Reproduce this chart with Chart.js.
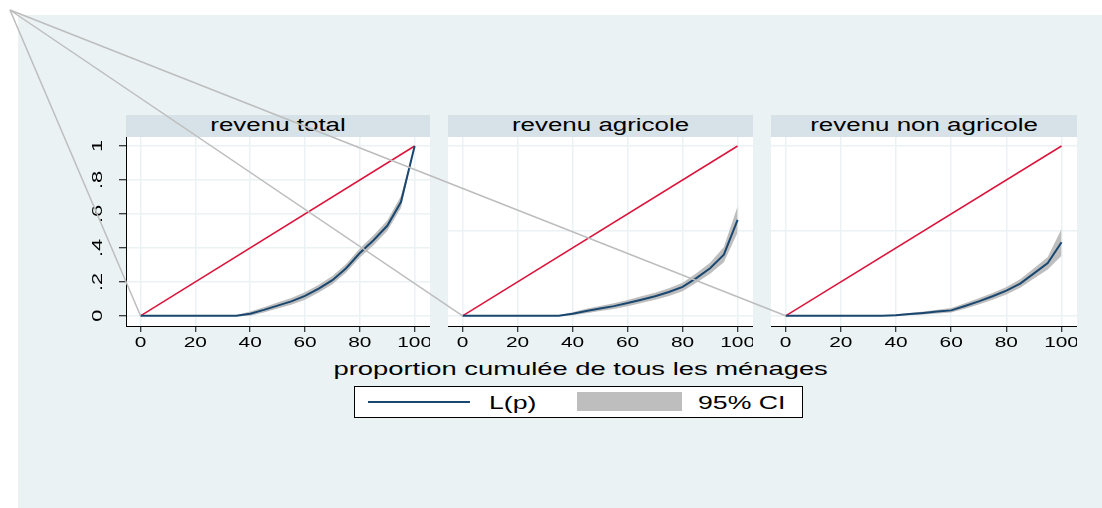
<!DOCTYPE html>
<html>
<head>
<meta charset="utf-8">
<script src="https://cdn.jsdelivr.net/npm/chart.js@4.4.0/dist/chart.umd.min.js"></script>
<style>
  html, body { margin: 0; padding: 0; background: #fff; }
  #page { position: relative; width: 1102px; height: 508px; overflow: hidden;
          font-family: "Liberation Sans", Arial, sans-serif; color: #000; }
  #bg { position: absolute; left: 18px; top: 15px; width: 1084px; height: 493px; background: #EAF2F3; }
  .strip { position: absolute; top: 115px; height: 22px; background: #D7E2E8;
           text-align: center; font-size: 18px; line-height: 20px; white-space: nowrap; }
  .sx { display: inline-block; transform: scaleX(1.44); transform-origin: center; }
  .sxl { display: inline-block; transform: scaleX(1.44); transform-origin: left center; }
  canvas.panel { position: absolute; }
  #xtitle { position: absolute; left: 0; width: 1162px; top: 358px; text-align: center;
            font-size: 19px; line-height: 22px; white-space: nowrap; }
  #legend { position: absolute; left: 354px; top: 386px; width: 447px; height: 30px;
            background: #fff; border: 1px solid #000; }
  #legend .txt { position: absolute; top: 6px; font-size: 18.5px; line-height: 20px; white-space: nowrap; }
  #overlay { position: absolute; left: 0; top: 0; pointer-events: none; }
</style>
</head>
<body>
<div id="page">
  <div id="bg"></div>

  <div class="strip" id="s0" style="left:126px;width:304px;"><span class="sx" id="t0"></span></div>
  <div class="strip" id="s1" style="left:448px;width:305px;"><span class="sx" id="t1"></span></div>
  <div class="strip" id="s2" style="left:771px;width:306px;"><span class="sx" id="t2"></span></div>

  <canvas class="panel" id="c0" width="370" height="220" style="left:60px;top:137px;"></canvas>
  <canvas class="panel" id="c1" width="305" height="220" style="left:448px;top:137px;"></canvas>
  <canvas class="panel" id="c2" width="306" height="220" style="left:771px;top:137px;"></canvas>

  <div id="xtitle"><span class="sx">proportion cumulée de tous les ménages</span></div>

  <div id="legend">
    <div style="position:absolute;left:13px;top:14px;width:102px;height:2px;background:#1A476F;"></div>
    <div class="txt" style="left:134px;"><span class="sxl">L(p)</span></div>
    <div style="position:absolute;left:222px;top:5px;width:105px;height:19px;background:#BEBEBE;"></div>
    <div class="txt" style="left:343px;"><span class="sxl">95% CI</span></div>
  </div>

  <canvas id="overlay" width="1102" height="508"></canvas>
</div>

<script>
// Cumulative population share (%) at which each Lorenz ordinate is estimated
const share = [0, 5, 10, 15, 20, 25, 30, 35, 40, 45, 50, 55, 60, 65, 70, 75, 80, 85, 90, 95, 100];

// revenu total: L(p) and 95% confidence bounds
const lpTotal = [0, 0, 0, 0, 0, 0, 0, 0, 0.012, 0.035, 0.06, 0.085, 0.117, 0.16, 0.21, 0.28, 0.37, 0.445, 0.53, 0.67, 1];
const loTotal = [0, 0, 0, 0, 0, 0, 0, 0, 0.001, 0.02, 0.043, 0.065, 0.095, 0.137, 0.186, 0.255, 0.343, 0.416, 0.499, 0.635, 1];
const hiTotal = [0, 0, 0, 0, 0, 0, 0, 0.005, 0.025, 0.051, 0.078, 0.105, 0.139, 0.183, 0.234, 0.305, 0.397, 0.474, 0.561, 0.705, 1];

// revenu agricole
const lpAgri = [0, 0, 0, 0, 0, 0, 0, 0, 0.012, 0.028, 0.043, 0.057, 0.075, 0.095, 0.115, 0.14, 0.17, 0.222, 0.28, 0.36, 0.565];
const loAgri = [0, 0, 0, 0, 0, 0, 0, 0, 0.003, 0.015, 0.028, 0.04, 0.057, 0.075, 0.094, 0.117, 0.145, 0.194, 0.248, 0.315, 0.49];
const hiAgri = [0, 0, 0, 0, 0, 0, 0, 0.003, 0.021, 0.041, 0.058, 0.074, 0.093, 0.115, 0.136, 0.163, 0.195, 0.25, 0.312, 0.405, 0.645];

// revenu non agricole
const lpNon = [0, 0, 0, 0, 0, 0, 0, 0, 0.004, 0.01, 0.017, 0.025, 0.032, 0.058, 0.085, 0.115, 0.148, 0.19, 0.25, 0.31, 0.433];
const loNon = [0, 0, 0, 0, 0, 0, 0, 0, 0, 0.003, 0.008, 0.014, 0.019, 0.042, 0.067, 0.095, 0.126, 0.165, 0.22, 0.273, 0.354];
const hiNon = [0, 0, 0, 0, 0, 0, 0, 0.002, 0.009, 0.017, 0.026, 0.036, 0.046, 0.074, 0.103, 0.135, 0.17, 0.215, 0.28, 0.347, 0.512];

// Line of perfect equality
const diagX = [0, 100];
const diagY = [0, 1];

// Axis ticks and labels
const xTicks = [0, 20, 40, 60, 80, 100];
const yTicks = [0, 0.2, 0.4, 0.6, 0.8, 1];
const yTickLabels = ['0', '.2', '.4', '.6', '.8', '1'];
const yGridOther = [0, 0.5, 1];

const panelTitles = ['revenu total', 'revenu agricole', 'revenu non agricole'];

const FONT = '"Liberation Sans", Arial, sans-serif';
const STRETCH = 1.44;
const NAVY = '#1A476F';
const RED = '#DC143C';
const BAND = '#BEBEBE';
const GRID = '#EAF2F3';

panelTitles.forEach((t, i) => { document.getElementById('t' + i).textContent = t; });

function pts(xs, ys) { return xs.map((x, i) => ({ x: x, y: ys[i] })); }

// White plot region behind the data
const plotBg = {
  id: 'plotBg',
  beforeDraw(chart) {
    const { ctx, chartArea: a } = chart;
    ctx.save();
    ctx.fillStyle = '#fff';
    ctx.fillRect(a.left, a.top, a.right - a.left, a.bottom - a.top);
    ctx.restore();
  }
};

// Horizontally widened x tick labels
const xLabels = {
  id: 'xLabels',
  afterDraw(chart) {
    const s = chart.scales.x, ctx = chart.ctx;
    ctx.save();
    ctx.font = '14.5px ' + FONT;
    ctx.fillStyle = '#000';
    ctx.textAlign = 'center';
    ctx.textBaseline = 'middle';
    s.ticks.forEach(t => {
      ctx.save();
      ctx.translate(s.getPixelForValue(t.value), s.top + 17);
      ctx.scale(STRETCH, 1);
      ctx.fillText(String(t.value), 0, 0);
      ctx.restore();
    });
    ctx.restore();
  }
};

// Vertical (rotated) y tick labels for the first panel
const yLabels = {
  id: 'yLabels',
  afterDraw(chart) {
    const s = chart.scales.y, ctx = chart.ctx;
    ctx.save();
    ctx.font = '15px ' + FONT;
    ctx.fillStyle = '#000';
    ctx.textAlign = 'center';
    ctx.textBaseline = 'middle';
    s.ticks.forEach((t, i) => {
      ctx.save();
      ctx.translate(38, s.getPixelForValue(t.value));
      ctx.rotate(-Math.PI / 2);
      ctx.scale(1.45, 1);
      ctx.fillText(yTickLabels[i], 0, 0);
      ctx.restore();
    });
    ctx.restore();
  }
};

function makePanel(canvasId, lp, lo, hi, first) {
  const yScale = first ? {
    type: 'linear', min: -0.06, max: 1.053,
    afterBuildTicks: s => { s.ticks = yTicks.map(v => ({ value: v })); },
    afterFit: s => { s.width = 66; },
    grid: { color: GRID, lineWidth: 1.5, drawTicks: true, tickLength: 7, tickColor: '#000', tickWidth: 1 },
    border: { display: true, color: '#000', width: 1 },
    ticks: { display: false }
  } : {
    type: 'linear', min: -0.06, max: 1.053,
    afterBuildTicks: s => { s.ticks = yGridOther.map(v => ({ value: v })); },
    afterFit: s => { s.width = 0; },
    grid: { color: GRID, lineWidth: 1.5, drawTicks: false },
    border: { display: false },
    ticks: { display: false }
  };

  return new Chart(document.getElementById(canvasId), {
    type: 'line',
    data: {
      datasets: [
        { data: pts(share, hi), fill: '+1', backgroundColor: BAND, borderColor: 'rgba(0,0,0,0)', borderWidth: 0, pointRadius: 0, order: 3 },
        { data: pts(share, lo), fill: false, borderColor: 'rgba(0,0,0,0)', borderWidth: 0, pointRadius: 0, order: 3 },
        { data: pts(diagX, diagY), fill: false, borderColor: RED, borderWidth: 1.5, pointRadius: 0, order: 2 },
        { data: pts(share, lp), fill: false, borderColor: NAVY, borderWidth: 2, pointRadius: 0, order: 1 }
      ]
    },
    options: {
      responsive: false,
      animation: false,
      layout: { padding: 0 },
      plugins: { legend: { display: false }, tooltip: { enabled: false } },
      scales: {
        x: {
          type: 'linear', min: -5.3, max: 105.6,
          afterBuildTicks: s => { s.ticks = xTicks.map(v => ({ value: v })); },
          afterFit: s => { s.height = 31; },
          grid: { color: GRID, lineWidth: 1.5, drawTicks: true, tickLength: 6, tickColor: '#000', tickWidth: 1 },
          border: { display: true, color: '#000', width: 1 },
          ticks: { display: false }
        },
        y: yScale
      }
    },
    plugins: first ? [plotBg, xLabels, yLabels] : [plotBg, xLabels]
  });
}

const charts = [
  makePanel('c0', lpTotal, loTotal, hiTotal, true),
  makePanel('c1', lpAgri, loAgri, hiAgri, false),
  makePanel('c2', lpNon, loNon, hiNon, false)
];

// Connector lines from the top-left corner to each panel's curve origin
const ov = document.getElementById('overlay').getContext('2d');
ov.strokeStyle = '#BDBDBD';
ov.lineWidth = 1.5;
charts.forEach(c => {
  const ox = c.canvas.offsetLeft + c.scales.x.getPixelForValue(share[0]);
  const oy = c.canvas.offsetTop + c.scales.y.getPixelForValue(lpTotal[0]);
  ov.beginPath();
  ov.moveTo(10, 10);
  ov.lineTo(ox, oy);
  ov.stroke();
});
</script>
</body>
</html>
